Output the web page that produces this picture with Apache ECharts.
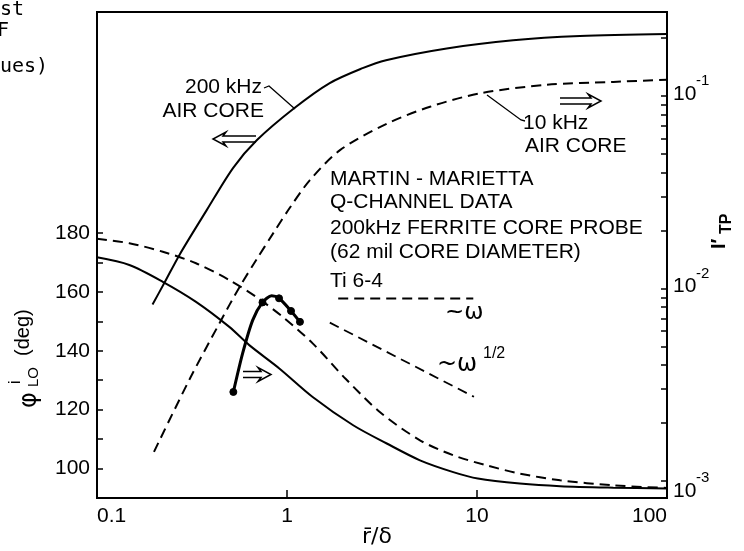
<!DOCTYPE html>
<html><head><meta charset="utf-8">
<script src="https://cdn.jsdelivr.net/npm/echarts@6/dist/echarts.min.js"></script>
<style>html,body{margin:0;padding:0;background:#fff}#c{width:744px;height:551px}</style>
</head><body><div id="c"></div>
<script>
// ---- tick labels ----
const xTickLabels = [0.1, 1, 10, 100];
const xInnerTicks = [1, 10];
const leftTickLabels = [100, 120, 140, 160, 180];
const leftTicks = [100, 110, 120, 130, 140, 150, 160, 170, 180];
const rightTickLabels = [0.001, 0.01, 0.1];
const rightTickExponents = ['-3', '-2', '-1'];
const rightTicks = [0.001, 0.002, 0.003, 0.004, 0.005, 0.006, 0.007, 0.008, 0.009,
                    0.01, 0.02, 0.03, 0.04, 0.05, 0.06, 0.07, 0.08, 0.09, 0.1, 0.2];

// ---- 200 kHz air core (I'_TP, right axis) ----
const air200X = [0.196, 0.2253, 0.273, 0.378, 0.522, 0.695, 1.09, 1.67, 2.50, 3.32, 6.93, 15.5, 34.8, 100];
const air200Y = [0.00826, 0.0106, 0.01507, 0.0255, 0.0424, 0.0589, 0.0861, 0.116, 0.139, 0.153, 0.176, 0.194, 0.204, 0.209];

// ---- 10 kHz air core (I'_TP, right axis) ----
const air10X = [0.1995, 0.309, 0.447, 0.562, 0.693, 0.847, 1.037, 1.32, 1.90, 3.32, 5.66, 10.4, 23.3, 52.2, 100];
const air10Y = [0.00142, 0.00342, 0.00676, 0.01016, 0.01419, 0.01937, 0.0263, 0.0365, 0.0522, 0.0713, 0.0877, 0.103, 0.114, 0.118, 0.121];

// ---- phase, solid (left axis, deg) ----
const phaseSolidX = [0.1, 0.148, 0.222, 0.332, 0.497, 0.633, 0.911, 1.365, 2.23, 3.35, 5.01, 7.50, 10.1, 16.8, 27.4, 52.2, 100];
const phaseSolidY = [171.7, 169.1, 163.4, 156.6, 148.1, 141.9, 134.0, 124.3, 114.7, 108.5, 102.8, 98.8, 96.6, 94.9, 94.0, 93.5, 93.2];

// ---- phase, dashed (left axis, deg) ----
const phaseDashedX = [0.1, 0.148, 0.222, 0.332, 0.497, 0.687, 0.949, 1.365, 2.04, 3.09, 5.01, 7.50, 11.2, 16.8, 27.4, 52.2, 100];
const phaseDashedY = [178.0, 176.5, 173.6, 169.7, 164.0, 158.3, 151.5, 142.5, 130.4, 119.1, 109.6, 104.5, 101.1, 98.3, 96.0, 94.3, 93.4];

// ---- Martin-Marietta Q-channel data (left axis) ----
const dataX = [0.522, 0.584, 0.660, 0.743, 0.830, 0.908, 1.05, 1.17];
const dataY = [126.0, 139.1, 150.4, 156.4, 158.7, 157.8, 153.5, 149.8];
const dataDot = [1, 0, 0, 1, 0, 1, 1, 1];

// ---- slope reference lines (right axis) ----
const slopeOmegaX = [1.86, 9.56];
const slopeOmegaY = [0.00887, 0.00887];
const slopeHalfX = [1.68, 9.64];
const slopeHalfY = [0.00665, 0.00274];

const zip = (xs, ys) => xs.map((x, i) => [x, ys[i]]);
const FONT = '"Liberation Sans", Arial, sans-serif';
const BLK = '#000';

const chart = echarts.init(document.getElementById('c'), null, {renderer: 'canvas'});

function txt(text, x, y, size, align, va, family) {
  return {type: 'text', x: x, y: y, silent: true,
    style: {text: text, fill: BLK, font: size + 'px ' + (family || FONT), textAlign: align || 'left', textVerticalAlign: va || 'middle'}};
}
function line(points, w) {
  return {type: 'polyline', silent: true, shape: {points: points}, style: {stroke: BLK, lineWidth: w || 1.3, fill: null}};
}
function arrow(tail, tip, y) {
  const d = tip > tail ? 1 : -1;
  const pts = [[tail, y - 3], [tip - d * 10, y - 3], [tip - d * 13, y - 7], [tip, y], [tip - d * 13, y + 7], [tip - d * 10, y + 3], [tail, y + 3]];
  return {type: 'polyline', silent: true, shape: {points: pts}, style: {stroke: BLK, lineWidth: 1.5, fill: null}};
}

const SM = 0.3;
const option = {
  backgroundColor: '#fff',
  animation: false,
  grid: {left: 97, right: 77, top: 12, bottom: 53, show: true, borderColor: BLK, borderWidth: 2, backgroundColor: 'transparent'},
  xAxis: {
    type: 'log', logBase: 10, min: 0.1, max: 100,
    axisLine: {lineStyle: {color: BLK, width: 2}},
    axisTick: {inside: true, length: 8, customValues: xInnerTicks, lineStyle: {color: BLK, width: 1.5}},
    axisLabel: {customValues: xTickLabels, color: BLK, fontSize: 21, fontFamily: FONT, margin: 8,
      alignMinLabel: 'left', alignMaxLabel: 'right',
      formatter: v => { const t = xTickLabels.reduce((a, b) => Math.abs(Math.log10(b) - Math.log10(v)) < Math.abs(Math.log10(a) - Math.log10(v)) ? b : a); return String(t); }},
    splitLine: {show: false}, minorTick: {show: false}
  },
  yAxis: [
    {type: 'value', min: 90, max: 255, position: 'left',
      axisLine: {show: true, lineStyle: {color: BLK, width: 2}},
      axisTick: {show: true, inside: true, length: 6, customValues: leftTicks, lineStyle: {color: BLK, width: 1.5}},
      axisLabel: {customValues: leftTickLabels, color: BLK, fontSize: 21, fontFamily: FONT, margin: 7},
      splitLine: {show: false}},
    {type: 'log', logBase: 10, min: 0.000818, max: 0.272, position: 'right',
      axisLine: {show: true, lineStyle: {color: BLK, width: 2}},
      axisTick: {show: true, inside: true, length: 6, customValues: rightTicks, lineStyle: {color: BLK, width: 1.5}},
      axisLabel: {show: false},
      splitLine: {show: false}}
  ],
  series: [
    {name: '200 kHz AIR CORE', type: 'line', yAxisIndex: 1, data: zip(air200X, air200Y), symbol: 'none', smooth: SM,
      lineStyle: {color: BLK, width: 2}},
    {name: '10 kHz AIR CORE', type: 'line', yAxisIndex: 1, data: zip(air10X, air10Y), symbol: 'none', smooth: SM,
      lineStyle: {color: BLK, width: 2, type: [10, 6]}},
    {name: 'phase solid', type: 'line', yAxisIndex: 0, data: zip(phaseSolidX, phaseSolidY), symbol: 'none', smooth: SM,
      lineStyle: {color: BLK, width: 2}},
    {name: 'phase dashed', type: 'line', yAxisIndex: 0, data: zip(phaseDashedX, phaseDashedY), symbol: 'none', smooth: SM,
      lineStyle: {color: BLK, width: 2, type: [10, 6]}},
    {name: 'Q-channel data', type: 'line', yAxisIndex: 0, smooth: 0.25,
      data: dataX.map((x, i) => ({value: [x, dataY[i]], symbol: dataDot[i] ? 'circle' : 'none'})),
      symbol: 'circle', symbolSize: 7, showSymbol: true,
      itemStyle: {color: BLK, borderColor: BLK}, lineStyle: {color: BLK, width: 3}},
    {name: '~ω', type: 'line', yAxisIndex: 1, data: zip(slopeOmegaX, slopeOmegaY), symbol: 'none',
      lineStyle: {color: BLK, width: 1.8, type: [10, 6]}},
    {name: '~ω^1/2', type: 'line', yAxisIndex: 1, data: zip(slopeHalfX, slopeHalfY), symbol: 'none',
      lineStyle: {color: BLK, width: 1.8, type: [10, 6]}}
  ],
  graphic: [
    // clipped heading at top-left
    txt('st', 0, 10, 20, 'left', 'middle', '"DejaVu Sans Mono", monospace'),
    txt('F', -3, 31, 20, 'left', 'middle', '"DejaVu Sans Mono", monospace'),
    txt('ues)', 0, 67, 20, 'left', 'middle', '"DejaVu Sans Mono", monospace'),
    // curve labels
    txt('200 kHz', 262, 87, 21, 'right'),
    txt('AIR CORE', 264, 111, 21, 'right'),
    line([[264, 88], [269, 86], [295, 109]]),
    arrow(256, 213, 139),
    txt('10 kHz', 523, 123, 21, 'left'),
    txt('AIR CORE', 525, 146, 21, 'left'),
    line([[487, 95], [521, 120], [525, 121]]),
    arrow(560, 601, 101),
    arrow(243, 271, 374.5),
    // legend block
    txt('MARTIN - MARIETTA', 330, 179, 21),
    txt('Q-CHANNEL DATA', 330, 202, 21),
    txt('200kHz FERRITE CORE PROBE', 330, 228, 21),
    txt('(62 mil CORE DIAMETER)', 330, 252, 21),
    txt('Ti 6-4', 330, 281, 21),
    txt('~ω', 445, 313, 23, 'left', 'middle', '"DejaVu Sans", sans-serif'),
    txt('~ω', 437, 365, 24, 'left', 'middle', '"DejaVu Sans", sans-serif'),
    txt('1/2', 483, 354, 16, 'left', 'middle'),
    // axis names
    txt('r\u0304/δ', 377, 537, 22, 'center', 'middle', '"DejaVu Sans", sans-serif'),
    {type: 'group', x: 30, y: 410, rotation: Math.PI / 2, silent: true, children: [
      txt('φ', 2, 0, 24, 'left', 'middle', '"DejaVu Sans", sans-serif'),
      txt('LO', 23, 4, 15, 'left', 'middle'),
      txt('i', 26, -14, 16, 'left', 'middle'),
      txt('(deg)', 54, -7, 20, 'left', 'middle')
    ]},
    {type: 'group', x: 720, y: 250, rotation: Math.PI / 2, silent: true, children: [
      {type: 'text', x: 1, y: -1, style: {text: 'I\u2032', fill: BLK, font: 'bold 20px ' + FONT, textAlign: 'left', textVerticalAlign: 'middle'}},
      {type: 'text', x: 16, y: 7, style: {text: 'TP', fill: BLK, font: 'bold 16px ' + FONT, textAlign: 'left', textVerticalAlign: 'middle'}}
    ]}
  ]
};
chart.setOption(option);

// right-axis power-of-ten labels, placed through the axis scale
const xRight = chart.convertToPixel({xAxisIndex: 0}, 100);
const extra = [];
rightTickLabels.forEach((v, i) => {
  const py = chart.convertToPixel({yAxisIndex: 1}, v);
  const shift = i === 0 ? 10 : -2;
  extra.push(txt('10', xRight + 6, py + shift, 21, 'left', 'middle'));
  extra.push(txt(rightTickExponents[i], xRight + 29, py + shift - 13, 15, 'left', 'middle'));
});
chart.setOption({graphic: option.graphic.concat(extra)});
</script>
</body></html>
